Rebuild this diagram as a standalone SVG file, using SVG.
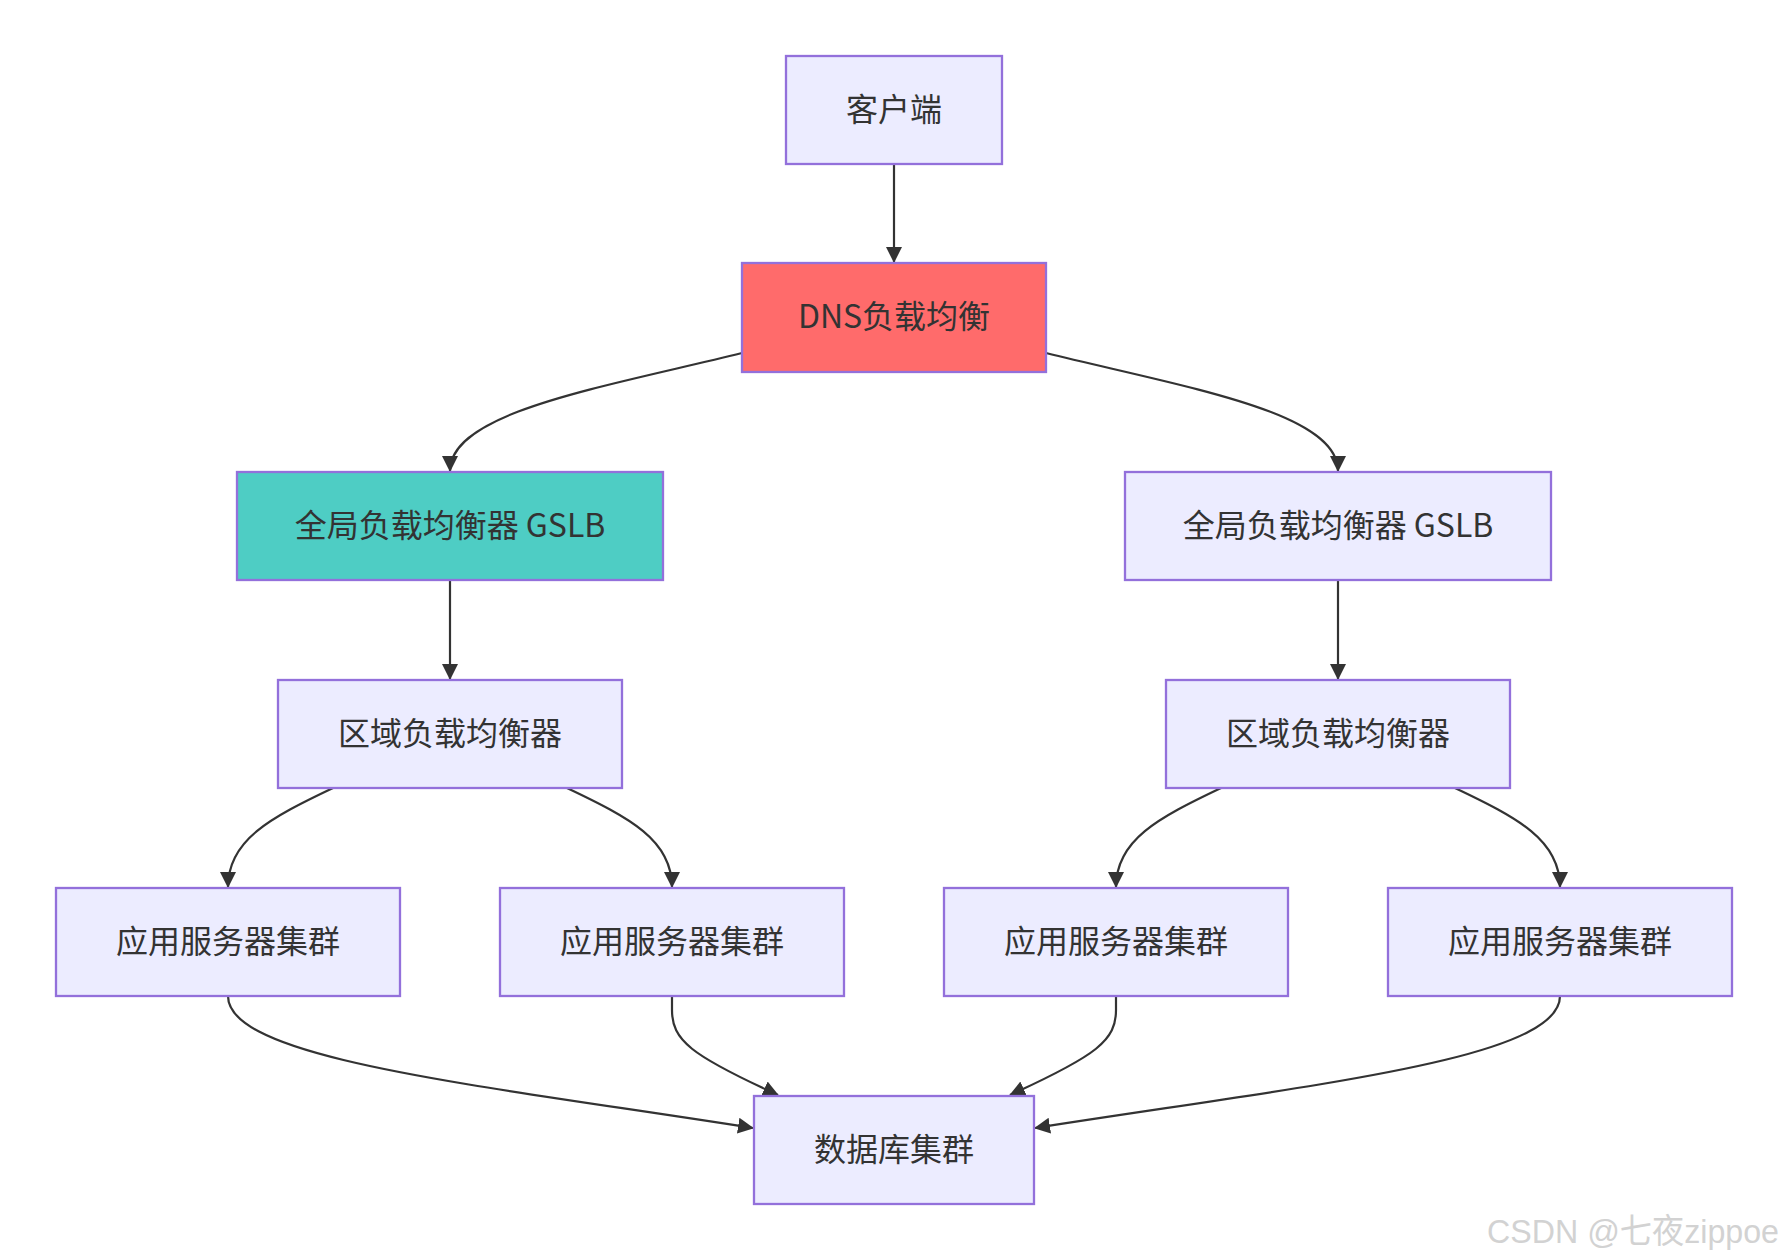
<svg xmlns="http://www.w3.org/2000/svg" width="1788" height="1259" viewBox="0 0 1788 1259">
<style>
.node rect{fill:#ECECFF;stroke:#9370DB;stroke-width:2.3}
.node text{font-family:"Noto Sans CJK SC","Noto Sans",sans-serif;font-size:32px;fill:#333333;text-anchor:middle;dominant-baseline:central}
.edge{fill:none;stroke:#333333;stroke-width:2.2}
.wm{font-family:"Liberation Sans","Noto Sans CJK SC",sans-serif;font-size:34px;fill:#d2d2d2}
</style>
<defs>
<marker id="arrow" markerUnits="userSpaceOnUse" markerWidth="16" markerHeight="16" viewBox="0 0 16 16" refX="15" refY="8" orient="auto">
<path d="M0,0 L16,8 L0,16 z" fill="#333333"/>
</marker>
</defs>
<rect width="1788" height="1259" fill="#ffffff"/>
<g id="connectors">
<path class="edge" marker-end="url(#arrow)" d="M894,164 L894,262"/>
<path class="edge" marker-end="url(#arrow)" d="M742,353 C600,388 450,412 450,471"/>
<path class="edge" marker-end="url(#arrow)" d="M1046,353 C1188,388 1338,412 1338,471"/>
<path class="edge" marker-end="url(#arrow)" d="M450,580 L450,679"/>
<path class="edge" marker-end="url(#arrow)" d="M1338,580 L1338,679"/>
<path class="edge" marker-end="url(#arrow)" d="M333,788 C270,818 228,840 228,887"/>
<path class="edge" marker-end="url(#arrow)" d="M567,788 C630,818 672,840 672,887"/>
<path class="edge" marker-end="url(#arrow)" d="M1221,788 C1158,818 1116,840 1116,887"/>
<path class="edge" marker-end="url(#arrow)" d="M1455,788 C1518,818 1560,840 1560,887"/>
<path class="edge" marker-end="url(#arrow)" d="M228,996 C228,1060 480,1085 753,1128"/>
<path class="edge" marker-end="url(#arrow)" d="M672,996 L672,1010 C672,1040 690,1055 778,1095"/>
<path class="edge" marker-end="url(#arrow)" d="M1116,996 L1116,1010 C1116,1040 1098,1055 1010,1095"/>
<path class="edge" marker-end="url(#arrow)" d="M1560,996 C1560,1060 1308,1085 1035,1128"/>
</g>
<g id="client" class="node"><rect x="786" y="56" width="216" height="108"/><text x="894" y="107">客户端</text></g>
<g id="dns" class="node"><rect x="742" y="263" width="304" height="109" style="fill:#FF6B6B"/><text x="894" y="314">DNS负载均衡</text></g>
<g id="gslb1" class="node"><rect x="237" y="472" width="426" height="108" style="fill:#4ECDC4"/><text x="450" y="523">全局负载均衡器 GSLB</text></g>
<g id="gslb2" class="node"><rect x="1125" y="472" width="426" height="108"/><text x="1338" y="523">全局负载均衡器 GSLB</text></g>
<g id="rlb1" class="node"><rect x="278" y="680" width="344" height="108"/><text x="450" y="731">区域负载均衡器</text></g>
<g id="rlb2" class="node"><rect x="1166" y="680" width="344" height="108"/><text x="1338" y="731">区域负载均衡器</text></g>
<g id="app1" class="node"><rect x="56" y="888" width="344" height="108"/><text x="228" y="939">应用服务器集群</text></g>
<g id="app2" class="node"><rect x="500" y="888" width="344" height="108"/><text x="672" y="939">应用服务器集群</text></g>
<g id="app3" class="node"><rect x="944" y="888" width="344" height="108"/><text x="1116" y="939">应用服务器集群</text></g>
<g id="app4" class="node"><rect x="1388" y="888" width="344" height="108"/><text x="1560" y="939">应用服务器集群</text></g>
<g id="db" class="node"><rect x="754" y="1096" width="280" height="108"/><text x="894" y="1147">数据库集群</text></g>
<text class="wm" x="1487" y="1243" textLength="292" lengthAdjust="spacingAndGlyphs">CSDN @七夜zippoe</text>
</svg>
